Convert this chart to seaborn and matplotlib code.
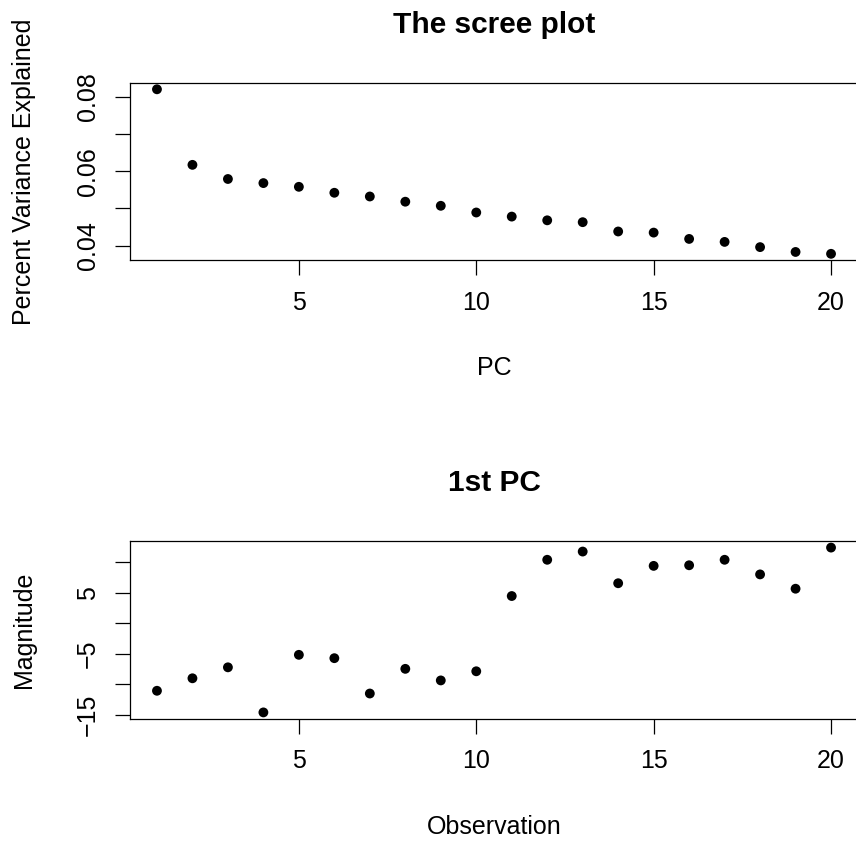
import matplotlib
matplotlib.use('Agg')
import matplotlib.pyplot as plt
import seaborn as sns
import pandas as pd
from matplotlib.ticker import FixedLocator, FixedFormatter

# Scree plot values
pcs = list(range(1, 21))
var_explained = [0.0820, 0.0617, 0.0579, 0.0568, 0.0558, 0.0542, 0.0532, 0.0518,
                 0.0507, 0.0489, 0.0478, 0.0468, 0.0463, 0.0438, 0.0435, 0.0418,
                 0.0410, 0.0396, 0.0383, 0.0378]

# First principal component, per observation
observations = list(range(1, 21))
magnitude = [-11.1, -9.05, -7.25, -14.65, -5.2, -5.75, -11.55, -7.5, -9.4, -7.9,
             4.45, 10.4, 11.75, 6.55, 9.4, 9.5, 10.4, 8.0, 5.65, 12.4]

top_yticks = [0.04, 0.05, 0.06, 0.07, 0.08]
top_ylabels = ['0.04', '', '0.06', '', '0.08']
bot_yticks = [-15, -10, -5, 0, 5, 10]
bot_ylabels = ['\u221215', '', '\u22125', '', '5', '']
xticks = [5, 10, 15, 20]

sns.set_theme(style='white')
plt.rcParams['font.family'] = ['Liberation Sans', 'DejaVu Sans']
plt.rcParams['axes.edgecolor'] = 'black'
plt.rcParams['axes.linewidth'] = 0.9
plt.rcParams['text.color'] = 'black'
plt.rcParams['axes.labelcolor'] = 'black'

W, H = 856, 841
fig = plt.figure(figsize=(W / 100, H / 100), dpi=100)
FS = 18


def r_limits(vals):
    lo, hi = min(vals), max(vals)
    pad = 0.04 * (hi - lo)
    return lo - pad, hi + pad


def make_panel(top_px, bottom_px, x, y, title, xlabel, ylabel, yticks, ylabels):
    left_px, right_px = 130, 858
    ax = fig.add_axes([left_px / W, 1 - bottom_px / H,
                       (right_px - left_px) / W, (bottom_px - top_px) / H])
    df = pd.DataFrame({'x': x, 'y': y})
    sns.scatterplot(data=df, x='x', y='y', ax=ax, color='black', s=50,
                    edgecolor='none', linewidth=0)
    ax.set_xlim(*r_limits(x))
    ax.set_ylim(*r_limits(y))
    ax.xaxis.set_major_locator(FixedLocator(xticks))
    ax.yaxis.set_major_locator(FixedLocator(yticks))
    ax.yaxis.set_major_formatter(FixedFormatter(ylabels))
    ax.tick_params(axis='both', direction='out', length=10.8, width=0.9,
                   color='black', pad=11, labelsize=FS, labelcolor='black',
                   bottom=True, left=True)
    ax.tick_params(axis='y', labelrotation=90)
    for lab in ax.get_yticklabels():
        lab.set_va('center')
    ax.set_title(title, fontsize=21.5, fontweight='bold', pad=36, color='black')
    ax.set_xlabel(xlabel, fontsize=FS)
    ax.set_ylabel(ylabel, fontsize=FS)
    h = bottom_px - top_px
    ax.xaxis.label.set_va('center')
    ax.xaxis.set_label_coords(0.5, -108 / h)
    ax.yaxis.label.set_va('center')
    ax.yaxis.set_label_coords(-106 / 728, 0.5)
    return ax


make_panel(82.7, 260.4, pcs, var_explained, 'The scree plot', 'PC',
           'Percent Variance Explained', top_yticks, top_ylabels)
make_panel(541, 719, observations, magnitude, '1st PC', 'Observation',
           'Magnitude', bot_yticks, bot_ylabels)

fig.savefig('out.png', dpi=100)
